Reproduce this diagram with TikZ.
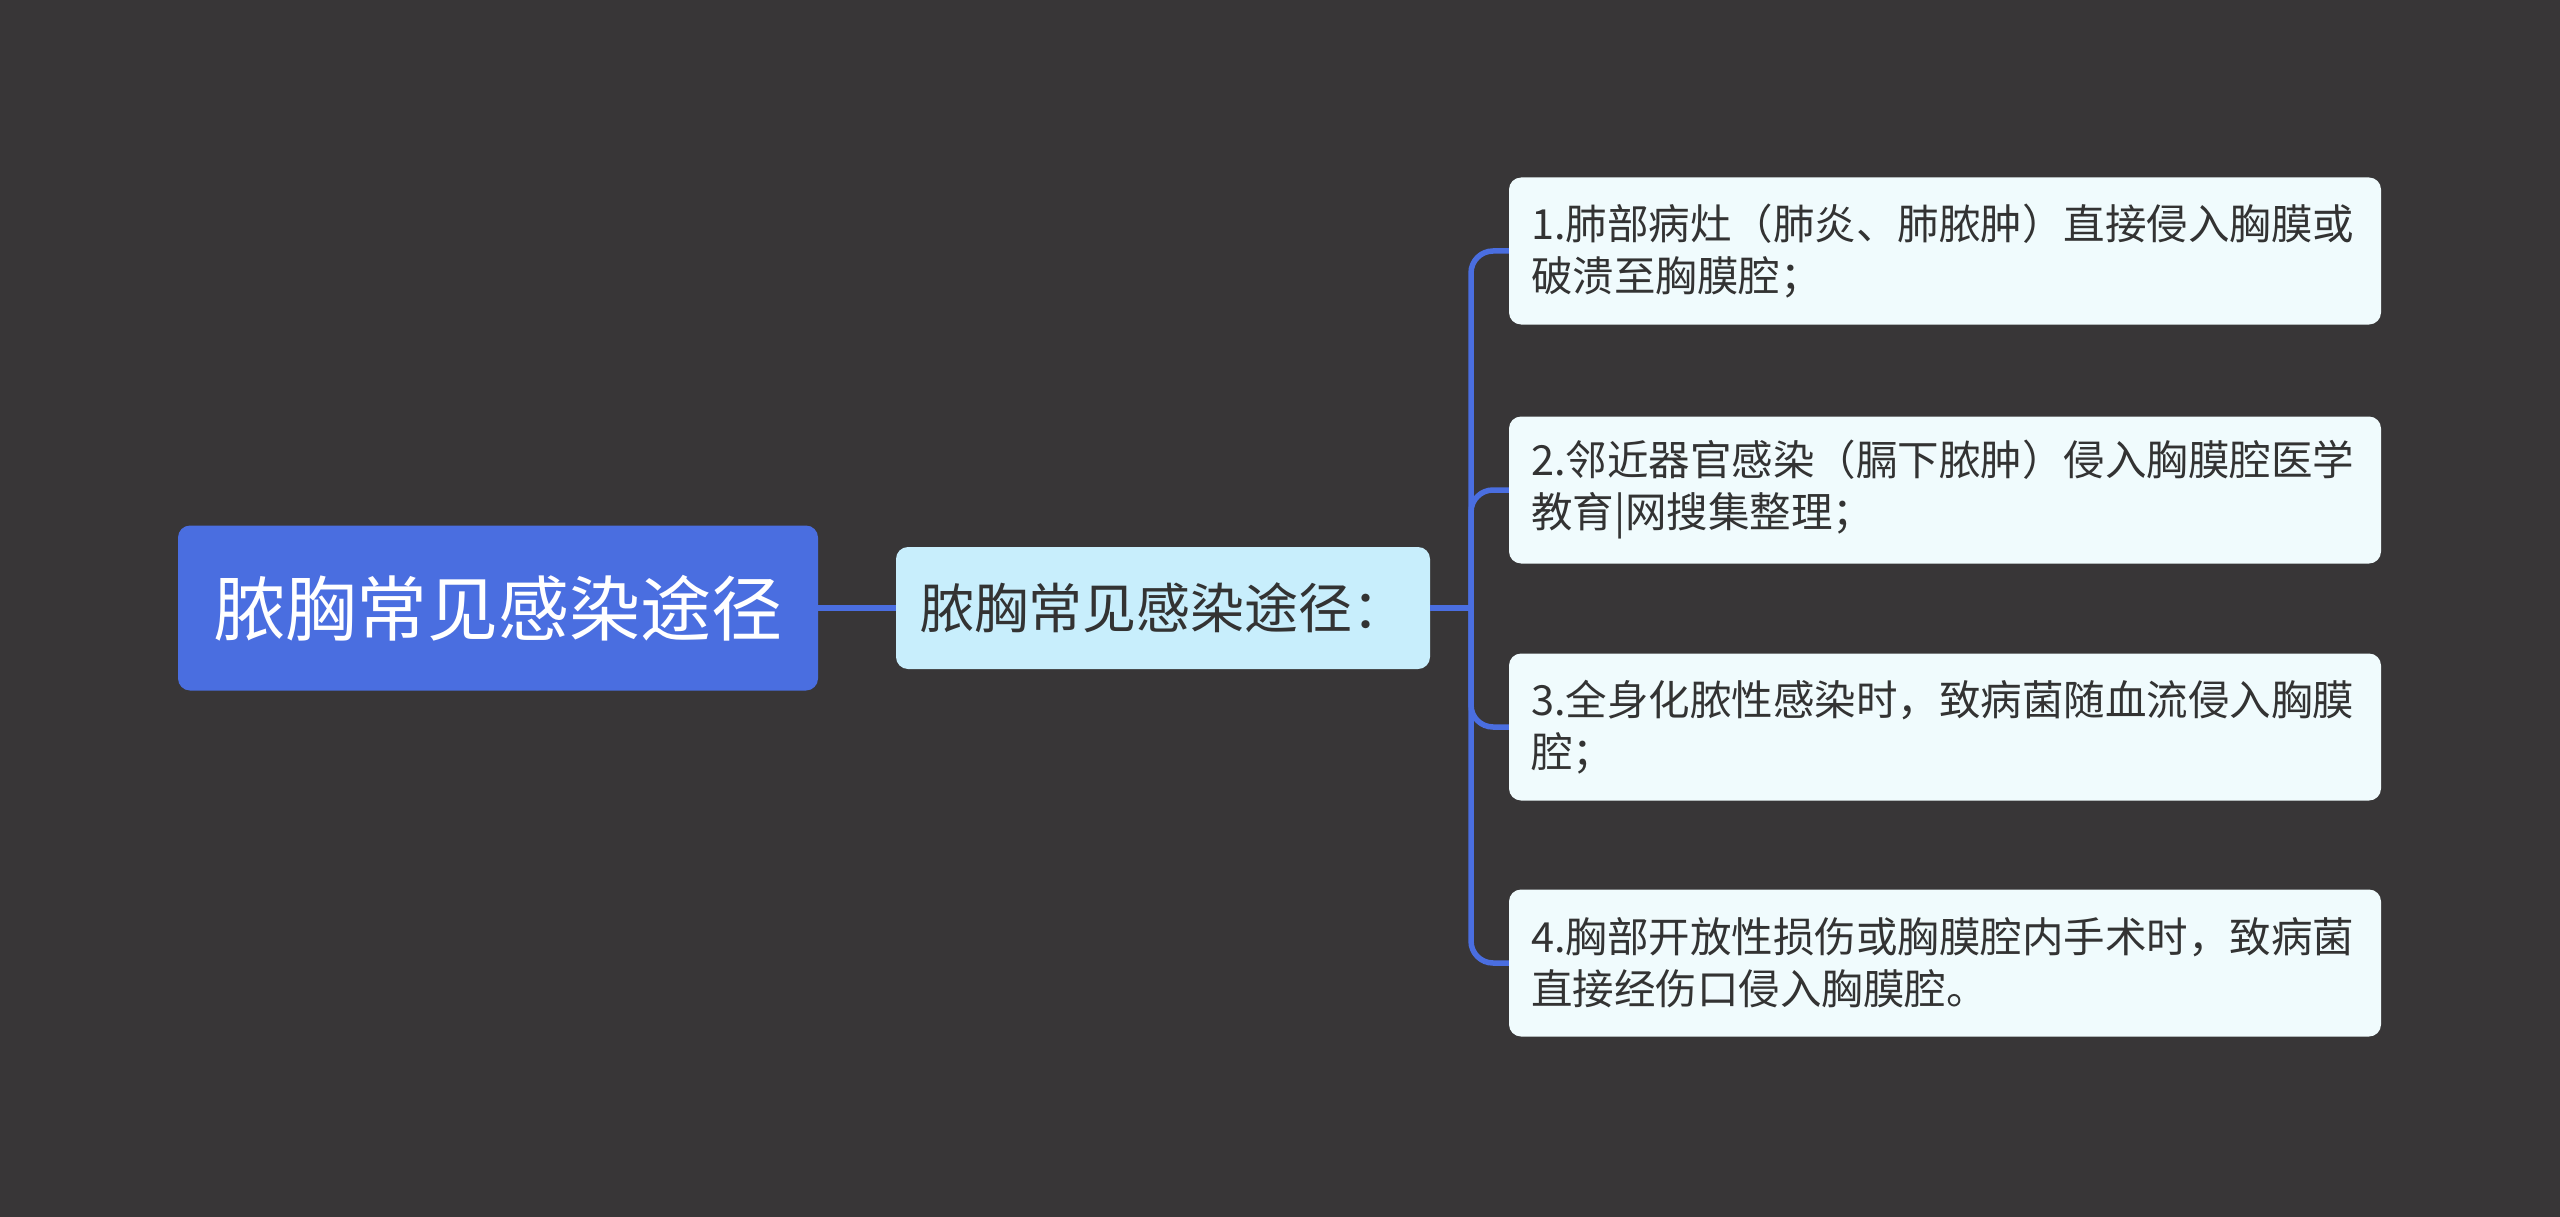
\documentclass[tikz,border=0pt]{standalone}
\usepackage{fontspec}
\setmainfont{Noto Sans CJK SC}
\newfontfamily\cjk{Noto Sans CJK SC}
\definecolor{bgc}{HTML}{383637}
\definecolor{linec}{HTML}{4A6EE0}
\definecolor{rootc}{HTML}{4A6EE0}
\definecolor{midc}{HTML}{C8EEFC}
\definecolor{leafc}{HTML}{F0FBFD}
\definecolor{txtc}{HTML}{333333}
\begin{document}
\begin{tikzpicture}[x=1pt,y=-1pt,
  rootbox/.style={fill=rootc, rounded corners=12pt, minimum width=640pt, minimum height=165pt, inner sep=0pt, text=white, font=\cjk\fontsize{71}{85}\selectfont},
  midbox/.style={fill=midc, rounded corners=12pt, minimum width=534pt, minimum height=122pt, inner sep=0pt, text=txtc, font=\cjk\fontsize{54}{64}\selectfont},
  leafbox/.style={fill=leafc, rounded corners=12pt, minimum width=872pt, minimum height=147pt, inner xsep=22pt, inner ysep=0pt, text width=828pt, align=left, text=txtc, font=\cjk\fontsize{41.5}{52}\selectfont},
  conn/.style={draw=linec, line width=5.5pt},
  branch/.style={conn, rounded corners=22pt}]
\fill[bgc] (0,0) rectangle (2560,1217);
\useasboundingbox (0,0) rectangle (2560,1217);
\node[rootbox] (root) at (498,608) {脓胸常见感染途径};
\node[midbox] (mid) at (1163,608) {脓胸常见感染途径：};
\node[leafbox] (l1) at (1945,251) {1.肺部病灶（肺炎、肺脓肿）直接侵入胸膜或\\破溃至胸膜腔；};
\node[leafbox] (l2) at (1945,490) {2.邻近器官感染（膈下脓肿）侵入胸膜腔医学\\教育|网搜集整理；};
\node[leafbox] (l3) at (1945,727) {3.全身化脓性感染时，致病菌随血流侵入胸膜\\腔；};
\node[leafbox] (l4) at (1945,963) {4.胸部开放性损伤或胸膜腔内手术时，致病菌\\直接经伤口侵入胸膜腔。};
\coordinate (t) at (1471,608);
\draw[conn] (root.east) -- (mid.west);
\draw[conn] (mid.east) -- (t);
\draw[branch] (t) |- (l1.west);
\draw[branch] (t) |- (l2.west);
\draw[branch] (t) |- (l3.west);
\draw[branch] (t) |- (l4.west);
\end{tikzpicture}
\end{document}
